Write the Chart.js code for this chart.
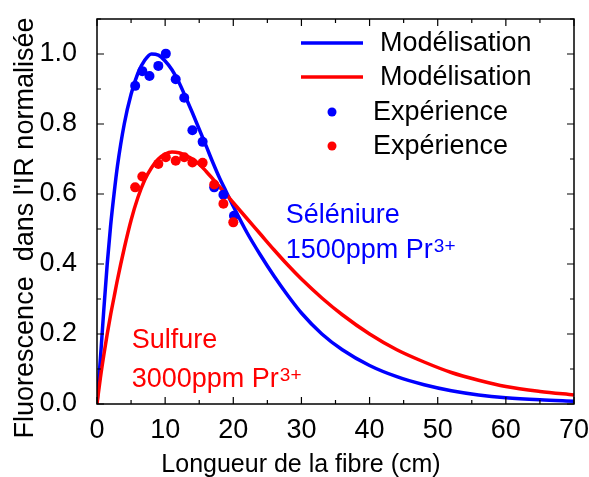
<!DOCTYPE html>
<html>
<head>
<meta charset="utf-8">
<script src="https://cdn.jsdelivr.net/npm/chart.js@4/dist/chart.umd.min.js"></script>
<style>
  html, body { margin: 0; padding: 0; background: #fff; }
  #wrap { width: 589px; height: 477px; }
</style>
</head>
<body>
<div id="wrap"><canvas id="fibreChart" width="589" height="477"></canvas></div>
<script>
// donnees
const modelX = [0, 0.5, 1, 1.5, 2, 2.5, 3, 4, 5, 6, 7, 8, 9, 10, 11, 12, 13, 14, 15, 16, 17, 18, 19, 20, 22, 24, 26, 28, 30, 33, 36, 40, 44, 48, 52, 56, 60, 65, 70];
const seleniureModel = [0, 0.13, 0.27, 0.40, 0.51, 0.60, 0.68, 0.80, 0.885, 0.945, 0.982, 1.0, 0.997, 0.98, 0.955, 0.92, 0.877, 0.832, 0.785, 0.738, 0.69, 0.645, 0.605, 0.565, 0.49, 0.425, 0.365, 0.31, 0.26, 0.2, 0.155, 0.11, 0.078, 0.055, 0.038, 0.026, 0.018, 0.012, 0.008];
const sulfureModel = [0, 0.075, 0.14, 0.2, 0.255, 0.305, 0.355, 0.445, 0.525, 0.59, 0.64, 0.675, 0.70, 0.714, 0.72, 0.718, 0.71, 0.70, 0.685, 0.665, 0.643, 0.62, 0.598, 0.575, 0.53, 0.485, 0.44, 0.397, 0.357, 0.303, 0.255, 0.2, 0.155, 0.12, 0.09, 0.068, 0.05, 0.036, 0.026];

const seleniureExpX = [5.6, 6.65, 7.7, 9.0, 10.1, 11.55, 12.8, 14.0, 15.5, 17.2, 18.55, 20.1];
const seleniureExp = [0.909, 0.951, 0.937, 0.966, 1.001, 0.928, 0.875, 0.782, 0.749, 0.619, 0.598, 0.538];
const sulfureExpX = [5.6, 6.65, 9.0, 10.1, 11.55, 12.8, 14.0, 15.5, 17.2, 18.55, 20.0];
const sulfureExp = [0.619, 0.650, 0.686, 0.705, 0.695, 0.705, 0.690, 0.689, 0.627, 0.572, 0.519];

const xTicks = [0, 10, 20, 30, 40, 50, 60, 70];
const yTicks = [0.0, 0.2, 0.4, 0.6, 0.8, 1.0];

const BLUE = '#0000ff';
const RED = '#ff0000';
const FONT = '"Liberation Sans", Arial, Helvetica, sans-serif';

function pts(xs, ys) {
  return xs.map((x, i) => ({ x: x, y: ys[i] }));
}

// cadre, graduations vers l'interieur, titres, legende et annotations
const decorPlugin = {
  id: 'decor',
  afterDatasetsDraw(chart) {
    const ctx = chart.ctx;
    const a = chart.chartArea;
    const sx = chart.scales.x, sy = chart.scales.y;
    ctx.save();
    ctx.strokeStyle = '#000';
    ctx.lineWidth = 1.5;
    ctx.strokeRect(a.left, a.top, a.right - a.left, a.bottom - a.top);

    ctx.lineWidth = 1.2;
    ctx.beginPath();
    for (let v = 0; v <= 70; v += 5) {
      const px = sx.getPixelForValue(v);
      const len = v % 10 === 0 ? 7 : 4;
      ctx.moveTo(px, a.bottom); ctx.lineTo(px, a.bottom - len);
      ctx.moveTo(px, a.top); ctx.lineTo(px, a.top + len);
    }
    for (let k = 0; k <= 11; k++) {
      const py = sy.getPixelForValue(k / 10);
      const len = k % 2 === 0 ? 7 : 4;
      ctx.moveTo(a.left, py); ctx.lineTo(a.left + len, py);
      ctx.moveTo(a.right, py); ctx.lineTo(a.right - len, py);
    }
    ctx.stroke();

    // titres des axes
    ctx.fillStyle = '#000';
    ctx.font = '25px ' + FONT;
    ctx.textAlign = 'center';
    ctx.textBaseline = 'alphabetic';
    ctx.fillText('Longueur de la fibre (cm)', 301, 472);

    ctx.save();
    ctx.translate(33, 228);
    ctx.rotate(-Math.PI / 2);
    ctx.font = '27px ' + FONT;
    ctx.fillText('Fluorescence  dans l\'IR normalis\u00e9e', 0, 0);
    ctx.restore();

    // legende
    const ds = chart.data.datasets;
    const rows = [
      { d: ds[0], y: 43, tx: 380 },
      { d: ds[1], y: 77, tx: 380 },
      { d: ds[2], y: 112, tx: 373 },
      { d: ds[3], y: 146, tx: 373 }
    ];
    ctx.font = '27px ' + FONT;
    ctx.textAlign = 'left';
    ctx.textBaseline = 'middle';
    rows.forEach(r => {
      if (r.d.showLine) {
        ctx.strokeStyle = r.d.borderColor;
        ctx.lineWidth = 3.5;
        ctx.beginPath();
        ctx.moveTo(301, r.y); ctx.lineTo(363, r.y);
        ctx.stroke();
      } else {
        ctx.fillStyle = r.d.backgroundColor;
        ctx.beginPath();
        ctx.arc(332, r.y, 4.5, 0, Math.PI * 2);
        ctx.fill();
      }
      ctx.fillStyle = '#000';
      ctx.fillText(r.d.label, r.tx, r.y + 1);
    });

    // annotations
    function label(lines, color, x, y1, y2) {
      ctx.fillStyle = color;
      ctx.textAlign = 'left';
      ctx.textBaseline = 'alphabetic';
      const px = sx.getPixelForValue(x);
      ctx.font = '27px ' + FONT;
      ctx.fillText(lines[0], px, sy.getPixelForValue(y1));
      const py = sy.getPixelForValue(y2);
      ctx.fillText(lines[1], px, py);
      const w = ctx.measureText(lines[1]).width;
      ctx.font = '19px ' + FONT;
      ctx.fillText('3+', px + w + 1, py - 6);
    }
    label(['S\u00e9l\u00e9niure', '1500ppm Pr'], BLUE, 27.7, 0.518, 0.416);
    label(['Sulfure', '3000ppm Pr'], RED, 5.1, 0.159, 0.049);
    ctx.restore();
  }
};

new Chart(document.getElementById('fibreChart'), {
  type: 'scatter',
  data: {
    datasets: [
      {
        label: 'Mod\u00e9lisation',
        data: pts(modelX, seleniureModel),
        showLine: true,
        borderColor: BLUE,
        borderWidth: 3.5,
        pointRadius: 0,
        cubicInterpolationMode: 'monotone',
        order: 3
      },
      {
        label: 'Mod\u00e9lisation',
        data: pts(modelX, sulfureModel),
        showLine: true,
        borderColor: RED,
        borderWidth: 3.5,
        pointRadius: 0,
        cubicInterpolationMode: 'monotone',
        order: 2
      },
      {
        label: 'Exp\u00e9rience',
        data: pts(seleniureExpX, seleniureExp),
        showLine: false,
        backgroundColor: BLUE,
        borderWidth: 0,
        pointRadius: 5,
        order: 1
      },
      {
        label: 'Exp\u00e9rience',
        data: pts(sulfureExpX, sulfureExp),
        showLine: false,
        backgroundColor: RED,
        borderWidth: 0,
        pointRadius: 5,
        order: 0
      }
    ]
  },
  options: {
    responsive: false,
    animation: false,
    devicePixelRatio: 1,
    layout: { padding: { top: 19, right: 15, left: 0, bottom: 0 } },
    plugins: {
      legend: { display: false },
      tooltip: { enabled: false }
    },
    scales: {
      x: {
        type: 'linear',
        min: 0,
        max: 70,
        grid: { display: false },
        border: { display: false },
        afterBuildTicks: s => { s.ticks = xTicks.map(v => ({ value: v })); },
        ticks: {
          color: '#000',
          font: { family: FONT, size: 27 },
          padding: 2,
          maxRotation: 0,
          callback: v => String(v)
        },
        afterFit: s => {
          s.height = 73;
          s.paddingLeft = 0; s.paddingRight = 0;
        }
      },
      y: {
        type: 'linear',
        min: 0,
        max: 1.1,
        grid: { display: false },
        border: { display: false },
        afterBuildTicks: s => { s.ticks = yTicks.map(v => ({ value: v })); },
        ticks: {
          color: '#000',
          font: { family: FONT, size: 27 },
          padding: 12,
          callback: v => Number(v).toFixed(1)
        },
        afterFit: s => {
          s.width = 97;
          s.paddingTop = 0; s.paddingBottom = 0;
        }
      }
    }
  },
  plugins: [decorPlugin]
});
</script>
</body>
</html>
